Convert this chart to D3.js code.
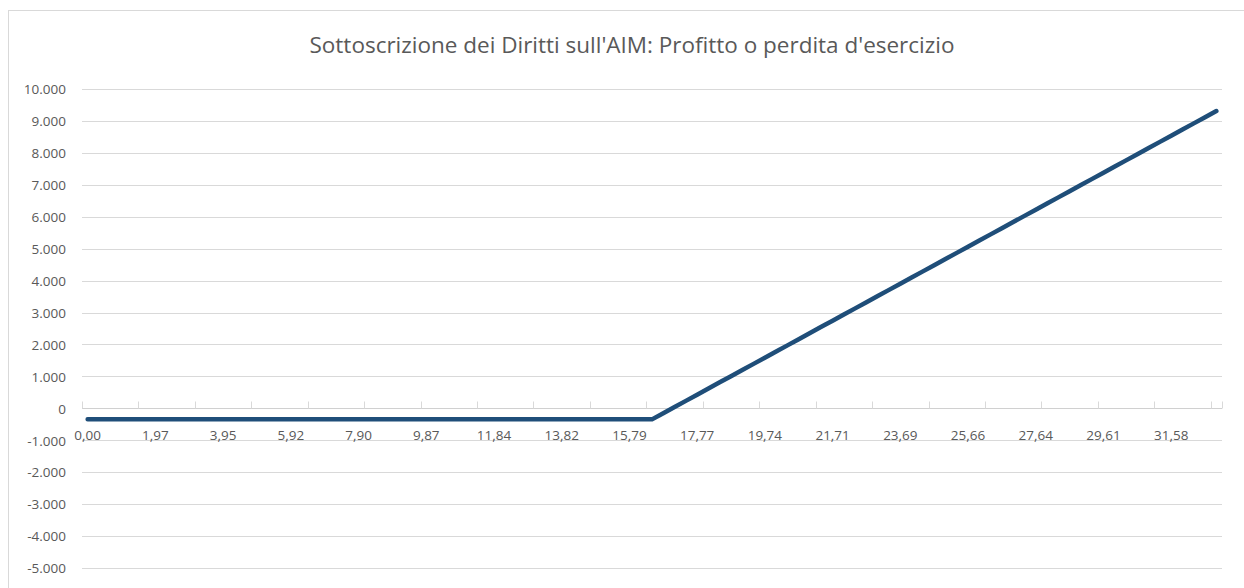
<!DOCTYPE html>
<html>
<head>
<meta charset="utf-8">
<script src="https://cdn.jsdelivr.net/npm/d3@7"></script>
<style>
  body { margin: 0; background: #fff; }
  text { font-family: "Open Sans", "Noto Sans", sans-serif; fill: #595959; }
  .title { font-family: "Liberation Sans Narrow", "Open Sans", sans-serif; }
</style>
</head>
<body>
<div id="chart"></div>
<script>
const title = "Sottoscrizione dei Diritti sull'AIM: Profitto o perdita d'esercizio";

// prezzo dell'azione (categorie asse x)
const prices = [
  0.00, 0.33, 0.66, 0.99, 1.32, 1.65, 1.97, 2.30, 2.63, 2.96,
  3.29, 3.62, 3.95, 4.28, 4.61, 4.94, 5.26, 5.59, 5.92, 6.25,
  6.58, 6.91, 7.24, 7.57, 7.90, 8.23, 8.55, 8.88, 9.21, 9.54,
  9.87, 10.20, 10.53, 10.86, 11.19, 11.52, 11.84, 12.17, 12.50, 12.83,
  13.16, 13.49, 13.82, 14.15, 14.48, 14.81, 15.13, 15.46, 15.79, 16.12,
  16.45, 16.78, 17.11, 17.44, 17.77, 18.10, 18.42, 18.75, 19.08, 19.41,
  19.74, 20.07, 20.40, 20.73, 21.06, 21.39, 21.71, 22.04, 22.37, 22.70,
  23.03, 23.36, 23.69, 24.02, 24.35, 24.68, 25.00, 25.33, 25.66, 25.99,
  26.32, 26.65, 26.98, 27.31, 27.64, 27.97, 28.29, 28.62, 28.95, 29.28,
  29.61, 29.94, 30.27, 30.60, 30.93, 31.26, 31.58, 31.91, 32.24, 32.57,
  32.90
];

// profitto o perdita
const profit = [
  -345, -345, -345, -345, -345, -345, -345, -345, -345, -345,
  -345, -345, -345, -345, -345, -345, -345, -345, -345, -345,
  -345, -345, -345, -345, -345, -345, -345, -345, -345, -345,
  -345, -345, -345, -345, -345, -345, -345, -345, -345, -345,
  -345, -345, -345, -345, -345, -345, -345, -345, -345, -345,
  -345, -152, 41, 234, 427, 621, 814, 1007, 1200, 1393,
  1586, 1779, 1972, 2165, 2358, 2552, 2745, 2938, 3131, 3324,
  3517, 3710, 3903, 4096, 4289, 4483, 4676, 4869, 5062, 5255,
  5448, 5641, 5834, 6027, 6220, 6414, 6607, 6800, 6993, 7186,
  7379, 7572, 7765, 7958, 8151, 8345, 8538, 8731, 8924, 9117,
  9310
];

const yTicks = [-5000, -4000, -3000, -2000, -1000, 0, 1000, 2000, 3000, 4000, 5000, 6000, 7000, 8000, 9000, 10000];

const W = 1244, H = 588;
const plot = { left: 82, right: 1222, top: 89, bottom: 568 };

const it = d3.formatLocale({ decimal: ",", thousands: ".", grouping: [3], currency: ["", "€"], minus: "-" });
const fmtY = it.format(",.0f");
const fmtX = it.format(".2f");

const svg = d3.select("#chart").append("svg")
  .attr("width", W)
  .attr("height", H);

// cornice del grafico
svg.append("rect")
  .attr("x", 8.5).attr("y", 10.5)
  .attr("width", W).attr("height", H)
  .attr("fill", "none")
  .attr("stroke", "#d9d9d9");

svg.append("text")
  .attr("class", "title")
  .attr("x", 632).attr("y", 53)
  .attr("text-anchor", "middle")
  .attr("font-size", 22)
  .attr("textLength", 645)
  .attr("lengthAdjust", "spacingAndGlyphs")
  .text(title);

const idx = d3.range(prices.length);
const x = d3.scaleBand().domain(idx).range([plot.left, plot.right]).padding(0);
const y = d3.scaleLinear().domain([-5000, 10000]).range([plot.bottom, plot.top]);

// griglia
svg.append("g")
  .selectAll("line")
  .data(yTicks.filter(d => d !== 0))
  .join("line")
  .attr("x1", plot.left).attr("x2", plot.right)
  .attr("y1", d => Math.round(y(d)) + 0.5).attr("y2", d => Math.round(y(d)) + 0.5)
  .attr("stroke", "#d9d9d9");

// asse y (etichette)
svg.append("g")
  .attr("transform", `translate(${plot.left - 16},0)`)
  .call(d3.axisLeft(y).tickValues(yTicks).tickFormat(fmtY).tickSize(0).tickPadding(0))
  .call(g => g.select(".domain").remove())
  .call(g => g.selectAll("text").attr("font-size", 13.5).attr("fill", "#595959").attr("dy", "0.35em"));

// asse x sullo zero
const y0 = Math.round(y(0)) + 0.5;
svg.append("line")
  .attr("x1", plot.left).attr("x2", plot.right)
  .attr("y1", y0).attr("y2", y0)
  .attr("stroke", "#d0d0d0");

svg.append("g")
  .selectAll("line")
  .data(idx.filter(i => i % 5 === 0).concat([prices.length]))
  .join("line")
  .attr("x1", i => Math.round(i < prices.length ? x(i) : plot.right) + 0.5)
  .attr("x2", i => Math.round(i < prices.length ? x(i) : plot.right) + 0.5)
  .attr("y1", y0).attr("y2", y0 - 7)
  .attr("stroke", "#d9d9d9");

svg.append("g")
  .selectAll("text")
  .data(idx.filter(i => i % 6 === 0))
  .join("text")
  .attr("x", i => x(i) + x.bandwidth() / 2)
  .attr("y", y0 + 31)
  .attr("text-anchor", "middle")
  .attr("font-size", 13.5)
  .text(i => fmtX(prices[i]));

// linea
const line = d3.line()
  .x((d, i) => x(i) + x.bandwidth() / 2)
  .y(d => y(d));

svg.append("path")
  .datum(profit)
  .attr("d", line)
  .attr("fill", "none")
  .attr("stroke", "#1f4e79")
  .attr("stroke-width", 4.5)
  .attr("stroke-linejoin", "round")
  .attr("stroke-linecap", "round");
</script>
</body>
</html>
